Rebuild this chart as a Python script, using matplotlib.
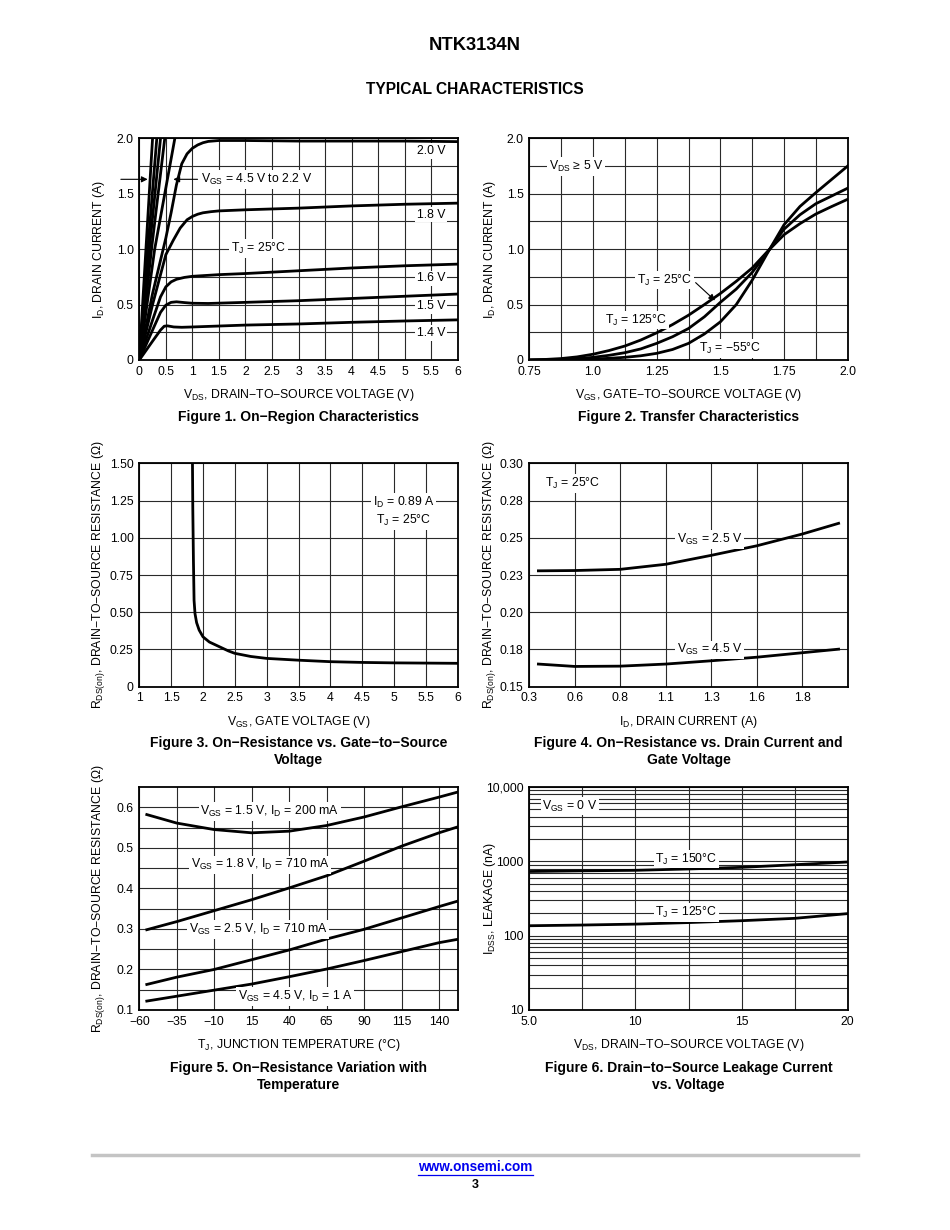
import numpy as np
import matplotlib
matplotlib.use('Agg')
from matplotlib import pyplot as plt
from matplotlib.ticker import FixedLocator, NullFormatter
from matplotlib.lines import Line2D

plt.rcParams['font.family'] = ['Liberation Sans', 'DejaVu Sans']
plt.rcParams['mathtext.default'] = 'regular'

# ---------------- data ----------------
# Fig 1: on-region characteristics, ID (A) vs VDS (V)
f1_steep_v = {'4.5': [0, 0.125, 0.25], '3.5': [0, 0.16, 0.33], '3.0': [0, 0.19, 0.40],
              '2.5': [0, 0.23, 0.48], '2.2': [0, 0.29, 0.67]}
f1_steep_i = [0, 1.0, 2.0]
f1_vgs20_v = [0, 0.25, 0.5, 0.6, 0.7, 0.8, 0.9, 1.0, 1.1, 1.2, 1.3, 1.5, 2, 3, 4, 5, 6]
f1_vgs20_i = [0, 0.6, 1.1, 1.33, 1.58, 1.77, 1.86, 1.91, 1.94, 1.96, 1.972, 1.98, 1.98, 1.975, 1.975, 1.975, 1.97]
f1_vgs18_v = [0, 0.25, 0.5, 0.64, 0.77, 0.9, 1.0, 1.1, 1.2, 1.35, 1.5, 2, 3, 4, 5, 6]
f1_vgs18_i = [0, 0.5, 0.95, 1.08, 1.19, 1.265, 1.295, 1.315, 1.328, 1.338, 1.345, 1.355, 1.37, 1.39, 1.405, 1.415]
f1_vgs16_v = [0, 0.25, 0.4, 0.5, 0.6, 0.7, 0.85, 1.0, 1.5, 2, 3, 4, 5, 6]
f1_vgs16_i = [0, 0.36, 0.57, 0.66, 0.705, 0.728, 0.745, 0.755, 0.77, 0.78, 0.805, 0.83, 0.85, 0.865]
f1_vgs15_v = [0, 0.25, 0.4, 0.5, 0.6, 0.7, 0.85, 1.0, 1.3, 2, 3, 4, 5, 6]
f1_vgs15_i = [0, 0.27, 0.43, 0.495, 0.52, 0.525, 0.518, 0.512, 0.51, 0.52, 0.535, 0.555, 0.575, 0.595]
f1_vgs14_v = [0, 0.25, 0.4, 0.47, 0.53, 0.65, 0.8, 1.0, 2, 3, 4, 5, 6]
f1_vgs14_i = [0, 0.17, 0.27, 0.305, 0.308, 0.298, 0.295, 0.298, 0.315, 0.325, 0.34, 0.352, 0.362]

# Fig 2: transfer characteristics, ID (A) vs VGS (V)
f2_vgs = [0.75, 0.8125, 0.875, 0.9375, 1.0, 1.0625, 1.125, 1.1875, 1.25, 1.3125, 1.375, 1.4375,
          1.5, 1.5625, 1.625, 1.6875, 1.75, 1.8125, 1.875, 1.9375, 2.0]
f2_125 = [0.0, 0.005, 0.013, 0.028, 0.052, 0.085, 0.126, 0.18, 0.245, 0.32, 0.404, 0.50,
          0.60, 0.71, 0.83, 0.985, 1.13, 1.23, 1.317, 1.385, 1.45]
f2_25 = [0.0, 0.002, 0.005, 0.012, 0.024, 0.042, 0.066, 0.10, 0.15, 0.21, 0.284, 0.39,
         0.52, 0.64, 0.79, 0.98, 1.18, 1.31, 1.41, 1.48, 1.55]
f2_m55 = [0.0, 0.001, 0.002, 0.004, 0.009, 0.015, 0.024, 0.038, 0.06, 0.095, 0.15, 0.235,
          0.344, 0.50, 0.72, 0.975, 1.22, 1.385, 1.51, 1.63, 1.75]

# Fig 3: RDS(on) (ohm) vs VGS (V)
f3_vgs = [1.835, 1.84, 1.85, 1.86, 1.875, 1.9, 1.94, 2.0, 2.1, 2.25, 2.4, 2.5, 2.75, 3.0, 3.5, 4.0, 4.5, 5.0, 6.0]
f3_rds = [1.50, 1.20, 0.85, 0.58, 0.49, 0.43, 0.38, 0.335, 0.30, 0.27, 0.24, 0.224, 0.203, 0.19, 0.178, 0.168, 0.163, 0.16, 0.157]

# Fig 4: RDS(on) (ohm) vs ID (A)
f4_id = [0.35, 0.55, 0.8, 1.05, 1.3, 1.55, 1.8, 2.0]
f4_25v = [0.2278, 0.2280, 0.2288, 0.2322, 0.2382, 0.2446, 0.2525, 0.2597]
f4_45v = [0.1652, 0.1636, 0.1638, 0.1652, 0.1674, 0.1698, 0.1728, 0.1752]

# Fig 5: RDS(on) (ohm) vs TJ (C)
f5_tj = [-55, -35, -10, 15, 40, 65, 90, 115, 140, 152]
f5_15v = [0.582, 0.561, 0.545, 0.537, 0.541, 0.555, 0.576, 0.601, 0.625, 0.637]
f5_18v = [0.298, 0.318, 0.345, 0.372, 0.401, 0.431, 0.467, 0.504, 0.537, 0.551]
f5_25v = [0.163, 0.181, 0.200, 0.224, 0.248, 0.275, 0.299, 0.327, 0.355, 0.368]
f5_45v = [0.122, 0.134, 0.149, 0.164, 0.182, 0.201, 0.222, 0.244, 0.266, 0.274]

# Fig 6: IDSS (nA) vs VDS (V)
f6_vds = [5, 7.5, 10, 12.5, 15, 17.5, 20]
f6_150 = [730, 745, 757, 790, 830, 900, 980]
f6_125 = [136, 139, 143, 150, 159, 171, 198]

W, H = 950, 1230
fig = plt.figure(figsize=(W / 100, H / 100), dpi=100)
FS = 8.8
LW = 2.0
GRID = dict(color='#2a2a2a', lw=0.8)
BOX = dict(facecolor='white', edgecolor='none', pad=1.2)


def make_ax(left, top, right, bottom):
    ax = fig.add_axes([left / W, 1 - bottom / H, (right - left) / W, (bottom - top) / H])
    for s in ax.spines.values():
        s.set_linewidth(1.3)
    ax.tick_params(which='both', length=0, pad=4, labelsize=FS)
    ax.set_axisbelow(True)
    return ax


def finish(ax, xlabel, ylabel, ylx=-0.103):
    ax.grid(True, which='both', **GRID)
    ax.set_xlabel(xlabel, fontsize=FS)
    ax.set_ylabel(ylabel, fontsize=FS)
    ax.xaxis.set_label_coords(0.5, -0.123)
    ax.yaxis.set_label_coords(ylx, 0.5)


XL, XR = 139.3, 457.7
XL2, XR2 = 529.3, 847.7

# ---------- Figure 1 ----------
ax = make_ax(XL, 138.3, XR, 360)
for k in f1_steep_v:
    ax.plot(f1_steep_v[k], f1_steep_i, color='k', lw=LW, solid_capstyle='butt')
for xs, ys in [(f1_vgs20_v, f1_vgs20_i), (f1_vgs18_v, f1_vgs18_i), (f1_vgs16_v, f1_vgs16_i),
               (f1_vgs15_v, f1_vgs15_i), (f1_vgs14_v, f1_vgs14_i)]:
    ax.plot(xs, ys, color='k', lw=LW)
ax.set_xlim(0, 6)
ax.set_ylim(0, 2)
ax.xaxis.set_major_locator(FixedLocator(np.arange(0, 6.01, 0.5)))
ax.set_xticklabels(['0', '0.5', '1', '1.5', '2', '2.5', '3', '3.5', '4', '4.5', '5', '5.5', '6'])
ax.yaxis.set_major_locator(FixedLocator([0, 0.5, 1.0, 1.5, 2.0]))
ax.set_yticklabels(['0', '0.5', '1.0', '1.5', '2.0'])
ax.yaxis.set_minor_locator(FixedLocator([0.25, 0.75, 1.25, 1.75]))
for txt, y in [('2.0 V', 1.885), ('1.8 V', 1.31), ('1.6 V', 0.737), ('1.5 V', 0.485), ('1.4 V', 0.245)]:
    ax.text(5.5, y, txt, fontsize=FS, ha='center', va='center', bbox=BOX)
ax.text(2.25, 1.008, r'T$_J$ = 25°C', fontsize=FS, ha='center', va='center', bbox=BOX)
ax.text(1.17, 1.63, r'V$_{GS}$ = 4.5 V to 2.2 V', fontsize=FS, ha='left', va='center', bbox=BOX)
ax.annotate('', xy=(0.21, 1.63), xytext=(-0.4, 1.63), annotation_clip=False,
            arrowprops=dict(arrowstyle='-|>', color='k', lw=0.8, mutation_scale=9))
ax.annotate('', xy=(0.59, 1.63), xytext=(1.15, 1.63),
            arrowprops=dict(arrowstyle='-|>', color='k', lw=0.8, mutation_scale=9))
finish(ax, r'V$_{DS}$, DRAIN−TO−SOURCE VOLTAGE (V)', r'I$_D$, DRAIN CURRENT (A)')

# ---------- Figure 2 ----------
ax = make_ax(XL2, 138.3, XR2, 360)
for ys in (f2_125, f2_25, f2_m55):
    ax.plot(f2_vgs, ys, color='k', lw=LW)
ax.set_xlim(0.75, 2.0)
ax.set_ylim(0, 2)
ax.xaxis.set_major_locator(FixedLocator([0.75, 1.0, 1.25, 1.5, 1.75, 2.0]))
ax.set_xticklabels(['0.75', '1.0', '1.25', '1.5', '1.75', '2.0'])
ax.xaxis.set_minor_locator(FixedLocator([0.875, 1.125, 1.375, 1.625, 1.875]))
ax.yaxis.set_major_locator(FixedLocator([0, 0.5, 1.0, 1.5, 2.0]))
ax.set_yticklabels(['0', '0.5', '1.0', '1.5', '2.0'])
ax.yaxis.set_minor_locator(FixedLocator([0.25, 0.75, 1.25, 1.75]))
ax.text(0.935, 1.745, r'V$_{DS}$ ≥ 5 V', fontsize=FS, ha='center', va='center', bbox=BOX)
ax.text(1.28, 0.72, r'T$_J$ = 25°C', fontsize=FS, ha='center', va='center', bbox=BOX)
ax.annotate('', xy=(1.487, 0.52), xytext=(1.395, 0.715),
            arrowprops=dict(arrowstyle='-|>', color='k', lw=0.8, mutation_scale=9))
ax.text(1.17, 0.36, r'T$_J$ = 125°C', fontsize=FS, ha='center', va='center', bbox=BOX)
ax.text(1.54, 0.105, r'T$_J$ = −55°C', fontsize=FS, ha='center', va='center', bbox=BOX)
finish(ax, r'V$_{GS}$, GATE−TO−SOURCE VOLTAGE (V)', r'I$_D$, DRAIN CURRENT (A)', ylx=-0.097)

# ---------- Figure 3 ----------
RLAB = r'R$_{DS(on)}$, DRAIN−TO−SOURCE RESISTANCE (Ω)'
ax = make_ax(XL, 463.3, XR, 686.7)
ax.plot(f3_vgs, f3_rds, color='k', lw=LW)
ax.set_xlim(1, 6)
ax.set_ylim(0, 1.5)
ax.xaxis.set_major_locator(FixedLocator(np.arange(1, 6.01, 0.5)))
ax.set_xticklabels(['1', '1.5', '2', '2.5', '3', '3.5', '4', '4.5', '5', '5.5', '6'])
ax.yaxis.set_major_locator(FixedLocator([0, 0.25, 0.5, 0.75, 1.0, 1.25, 1.5]))
ax.set_yticklabels(['0', '0.25', '0.50', '0.75', '1.00', '1.25', '1.50'])
ax.text(5.15, 1.175, 'I$_D$ = 0.89 A\nT$_J$ = 25°C', fontsize=FS, ha='center', va='center',
        linespacing=1.3, bbox=BOX)
finish(ax, r'V$_{GS}$, GATE VOLTAGE (V)', RLAB)

# ---------- Figure 4 ----------
ax = make_ax(XL2, 463.3, XR2, 686.7)
ax.plot(f4_id, f4_25v, color='k', lw=LW)
ax.plot(f4_id, f4_45v, color='k', lw=LW)
ax.set_xlim(0.3, 2.05)
ax.set_ylim(0.15, 0.30)
ax.xaxis.set_major_locator(FixedLocator(np.arange(0.3, 2.0, 0.25)))
ax.set_xticklabels(['0.3', '0.6', '0.8', '1.1', '1.3', '1.6', '1.8'])
ax.yaxis.set_major_locator(FixedLocator(np.arange(0.15, 0.3001, 0.025)))
ax.set_yticklabels(['0.15', '0.18', '0.20', '0.23', '0.25', '0.28', '0.30'])
ax.text(0.54, 0.2866, r'T$_J$ = 25°C', fontsize=FS, ha='center', va='center', bbox=BOX)
ax.text(1.29, 0.2487, r'V$_{GS}$ = 2.5 V', fontsize=FS, ha='center', va='center', bbox=BOX)
ax.text(1.29, 0.1748, r'V$_{GS}$ = 4.5 V', fontsize=FS, ha='center', va='center', bbox=BOX)
finish(ax, r'I$_D$, DRAIN CURRENT (A)', RLAB, ylx=-0.097)

# ---------- Figure 5 ----------
ax = make_ax(XL, 787, XR, 1010)
for ys in (f5_15v, f5_18v, f5_25v, f5_45v):
    ax.plot(f5_tj, ys, color='k', lw=LW)
ax.set_xlim(-60, 152.5)
ax.set_ylim(0.1, 0.65)
ax.xaxis.set_major_locator(FixedLocator(np.arange(-60, 141, 25)))
ax.set_xticklabels(['−60', '−35', '−10', '15', '40', '65', '90', '115', '140'])
ax.yaxis.set_major_locator(FixedLocator([0.1, 0.2, 0.3, 0.4, 0.5, 0.6]))
ax.set_yticklabels(['0.1', '0.2', '0.3', '0.4', '0.5', '0.6'])
ax.yaxis.set_minor_locator(FixedLocator([0.15, 0.25, 0.35, 0.45, 0.55]))
ax.text(27, 0.59, r'V$_{GS}$ = 1.5 V, I$_D$ = 200 mA', fontsize=FS, ha='center', va='center', bbox=BOX)
ax.text(20.5, 0.458, r'V$_{GS}$ = 1.8 V, I$_D$ = 710 mA', fontsize=FS, ha='center', va='center', bbox=BOX)
ax.text(19.5, 0.299, r'V$_{GS}$ = 2.5 V, I$_D$ = 710 mA', fontsize=FS, ha='center', va='center', bbox=BOX)
ax.text(44, 0.133, r'V$_{GS}$ = 4.5 V, I$_D$ = 1 A', fontsize=FS, ha='center', va='center', bbox=BOX)
finish(ax, r'T$_J$, JUNCTION TEMPERATURE (°C)', RLAB)

# ---------- Figure 6 ----------
ax = make_ax(XL2, 787, XR2, 1010)
ax.plot(f6_vds, f6_150, color='k', lw=LW)
ax.plot(f6_vds, f6_125, color='k', lw=LW)
ax.set_yscale('log')
ax.set_xlim(5, 20)
ax.set_ylim(10, 10000)
ax.xaxis.set_major_locator(FixedLocator([5, 10, 15, 20]))
ax.set_xticklabels(['5.0', '10', '15', '20'])
ax.xaxis.set_minor_locator(FixedLocator([7.5, 12.5, 17.5]))
ax.yaxis.set_major_locator(FixedLocator([10, 100, 1000, 10000]))
ax.set_yticklabels(['10', '100', '1000', '10,000'])
ax.yaxis.set_minor_locator(FixedLocator([m * d for d in (10, 100, 1000) for m in range(2, 10)]))
ax.yaxis.set_minor_formatter(NullFormatter())
ax.text(6.92, 5550, r'V$_{GS}$ = 0 V', fontsize=FS, ha='center', va='center', bbox=BOX)
ax.text(12.4, 1075, r'T$_J$ = 150°C', fontsize=FS, ha='center', va='center', bbox=BOX)
ax.text(12.4, 206, r'T$_J$ = 125°C', fontsize=FS, ha='center', va='center', bbox=BOX)
finish(ax, r'V$_{DS}$, DRAIN−TO−SOURCE VOLTAGE (V)', r'I$_{DSS}$, LEAKAGE (nA)', ylx=-0.097)

# ---------- page text ----------
CFS = 10.0
def cap(x, y, s):
    fig.text(x / W, 1 - y / H, s, fontsize=CFS, fontweight='bold', ha='center', va='center',
             linespacing=1.3)

cap(298.5, 417, 'Figure 1. On−Region Characteristics')
cap(688.5, 417, 'Figure 2. Transfer Characteristics')
cap(298.5, 751.5, 'Figure 3. On−Resistance vs. Gate−to−Source\nVoltage')
cap(688.5, 751.5, 'Figure 4. On−Resistance vs. Drain Current and\nGate Voltage')
cap(298.5, 1076.5, 'Figure 5. On−Resistance Variation with\nTemperature')
cap(688.5, 1076.5, 'Figure 6. Drain−to−Source Leakage Current\nvs. Voltage')

fig.text(475 / W, 1 - 45 / H, 'NTK3134N', fontsize=13.2, fontweight='bold', ha='center', va='center')
fig.text(475 / W, 1 - 90 / H, 'TYPICAL CHARACTERISTICS', fontsize=11.2, fontweight='bold',
         ha='center', va='center')

fig.add_artist(Line2D([92 / W, 858 / W], [1 - 1155 / H, 1 - 1155 / H], color='#c4c4c4', lw=2.5))
fig.text(475 / W, 1 - 1167 / H, 'www.onsemi.com', fontsize=9.8, fontweight='bold', color='#0000ee',
         ha='center', va='center')
fig.add_artist(Line2D([418 / W, 533 / W], [1 - 1175 / H, 1 - 1175 / H], color='#0000ee', lw=0.9))
fig.text(475 / W, 1 - 1185 / H, '3', fontsize=9, fontweight='bold', ha='center', va='center')

fig.savefig('out.png', dpi=100, facecolor='white')
